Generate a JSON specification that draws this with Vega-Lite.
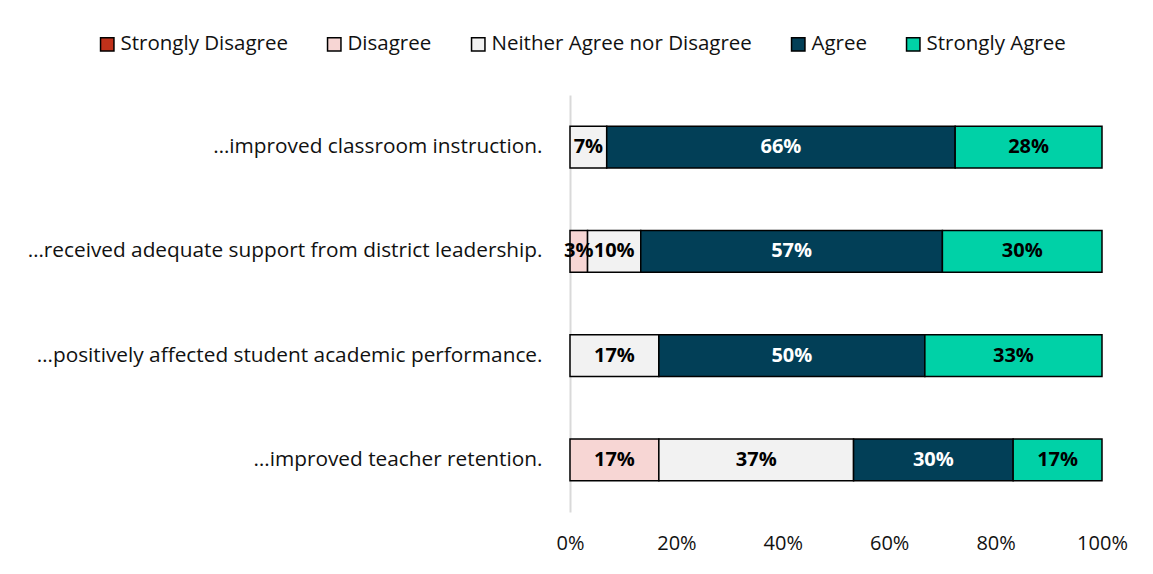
{
  "$schema": "https://vega.github.io/schema/vega-lite/v6.json",
  "width": 532,
  "height": 417,
  "autosize": {"type": "none"},
  "padding": {"left": 570, "top": 95, "right": 51, "bottom": 62},
  "background": "white",
  "config": {
    "view": {"stroke": null},
    "font": "Open Sans"
  },
  "data": {
    "values": [
      {"q": "…improved classroom instruction.", "resp": "Neither Agree nor Disagree", "k": 3, "v": 0.069},
      {"q": "…improved classroom instruction.", "resp": "Agree", "k": 4, "v": 0.655},
      {"q": "…improved classroom instruction.", "resp": "Strongly Agree", "k": 5, "v": 0.276},
      {"q": "…received adequate support from district leadership.", "resp": "Disagree", "k": 2, "v": 0.033},
      {"q": "…received adequate support from district leadership.", "resp": "Neither Agree nor Disagree", "k": 3, "v": 0.1},
      {"q": "…received adequate support from district leadership.", "resp": "Agree", "k": 4, "v": 0.567},
      {"q": "…received adequate support from district leadership.", "resp": "Strongly Agree", "k": 5, "v": 0.3},
      {"q": "…positively affected student academic performance.", "resp": "Neither Agree nor Disagree", "k": 3, "v": 0.167},
      {"q": "…positively affected student academic performance.", "resp": "Agree", "k": 4, "v": 0.5},
      {"q": "…positively affected student academic performance.", "resp": "Strongly Agree", "k": 5, "v": 0.333},
      {"q": "…improved teacher retention.", "resp": "Disagree", "k": 2, "v": 0.167},
      {"q": "…improved teacher retention.", "resp": "Neither Agree nor Disagree", "k": 3, "v": 0.366},
      {"q": "…improved teacher retention.", "resp": "Agree", "k": 4, "v": 0.3},
      {"q": "…improved teacher retention.", "resp": "Strongly Agree", "k": 5, "v": 0.167}
    ]
  },
  "transform": [
    {"stack": "v", "groupby": ["q"], "sort": [{"field": "k"}], "as": ["v0", "v1"]},
    {"calculate": "(datum.v0 + datum.v1) / 2", "as": "mid"}
  ],
  "encoding": {
    "y": {
      "field": "q",
      "type": "nominal",
      "sort": null,
      "title": null,
      "scale": {"paddingInner": 0.6, "paddingOuter": 0.3},
      "axis": {
        "ticks": false,
        "domainColor": "#d9d9d9",
        "domainWidth": 2,
        "labelFontSize": 20.8,
        "labelColor": "#111",
        "labelPadding": 28,
        "labelLimit": 700
      }
    }
  },
  "layer": [
    {
      "mark": {"type": "bar", "stroke": "black", "strokeWidth": 1.5},
      "encoding": {
        "x": {
          "field": "v0",
          "type": "quantitative",
          "scale": {"domain": [0, 1], "nice": false},
          "title": null,
          "axis": {
            "format": ".0%",
            "values": [0, 0.2, 0.4, 0.6, 0.8, 1],
            "grid": false,
            "domain": false,
            "ticks": false,
            "labelFlush": false,
            "labelFontSize": 20,
            "labelColor": "#111",
            "labelPadding": 21
          }
        },
        "x2": {"field": "v1"},
        "color": {
          "field": "resp",
          "type": "nominal",
          "scale": {
            "domain": ["Strongly Disagree", "Disagree", "Neither Agree nor Disagree", "Agree", "Strongly Agree"],
            "range": ["#C0311A", "#F7D6D4", "#F2F2F2", "#023F57", "#00D1A7"]
          },
          "legend": {
            "title": null,
            "orient": "none",
            "direction": "horizontal",
            "legendX": -473,
            "legendY": -61,
            "columns": 5,
            "symbolType": "square",
            "symbolSize": 180,
            "symbolStrokeColor": "black",
            "symbolStrokeWidth": 1.5,
            "labelFontSize": 20.5,
            "labelColor": "#111",
            "labelOffset": 3,
            "columnPadding": 36,
            "labelLimit": 400
          }
        }
      }
    },
    {
      "mark": {"type": "text", "fontWeight": "bold", "fontSize": 20, "align": "center", "baseline": "middle"},
      "encoding": {
        "x": {"field": "mid", "type": "quantitative"},
        "text": {"field": "v", "type": "quantitative", "format": ".0%"},
        "color": {
          "condition": {"test": "datum.resp === 'Agree'", "value": "white"},
          "value": "black"
        }
      }
    }
  ]
}
